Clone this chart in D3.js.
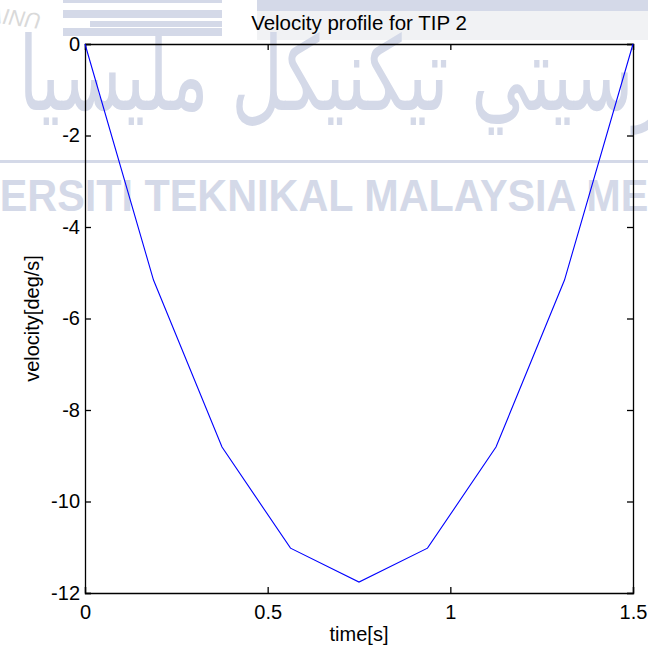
<!DOCTYPE html>
<html>
<head>
<meta charset="utf-8">
<script src="https://cdn.jsdelivr.net/npm/d3@7"></script>
<style>
    body { margin: 0; background: #fff; }
    svg { display: block; }
    text { font-family: "Liberation Sans", Arial, sans-serif; fill: #000; }
</style>
</head>
<body>
<div id="chart"></div>
<script>
// samples of the velocity profile
const timeValues = [0, 0.1875, 0.375, 0.5625, 0.75, 0.9375, 1.125, 1.3125, 1.5]
const velocityValues = [0, -5.16, -8.81, -11.02, -11.76, -11.02, -8.81, -5.16, 0]
const xTicks = [0, 0.5, 1, 1.5]
const yTicks = [0, -2, -4, -6, -8, -10, -12]

;(function () {
    const width = 648
    const height = 651
    const margin = { top: 44, right: 15, bottom: 58, left: 85 }
    const chartWidth = width - margin.left - margin.right
    const chartHeight = height - margin.top - margin.bottom
    const tickLen = 6

    const svg = d3.select("#chart")
        .append("svg")
        .attr("width", width)
        .attr("height", height)

    // background watermark (university logo banner)
    const wm = svg.append("g").attr("class", "watermark")
    const wmColor = "#d4d9e8"

    wm.append("rect").attr("x", 257).attr("y", 0).attr("width", 391).attr("height", 40).attr("fill", "#f1f2f4")
    wm.append("rect").attr("x", 257).attr("y", 0).attr("width", 391).attr("height", 11).attr("fill", wmColor)
    const stripes = [[63, 0, 3], [63, 10, 8], [90, 21, 6], [63, 28, 8]]
    stripes.forEach(s => {
        wm.append("rect").attr("x", s[0]).attr("y", s[1]).attr("width", 222 - s[0]).attr("height", s[2]).attr("fill", wmColor)
    })
    wm.append("text")
        .attr("transform", "translate(42,14) rotate(188)")
        .style("font-size", "22px")
        .style("font-style", "italic")
        .style("fill", "#d9d9d9")
        .text("UNIV")

    wm.append("text")
        .attr("transform", "translate(668,110) scale(0.87,1.25)")
        .attr("direction", "rtl")
        .style("font-family", "DejaVu Sans, sans-serif")
        .style("font-size", "82px")
        .style("fill", wmColor)
        .text("رسيتي تيكنيكل مليسيا م")

    wm.append("rect").attr("x", 0).attr("y", 160).attr("width", width).attr("height", 3).attr("fill", wmColor)

    wm.append("text")
        .attr("transform", "translate(-99,211) scale(0.94,1)")
        .style("font-size", "44px")
        .style("font-weight", "bold")
        .style("fill", wmColor)
        .text("UNIVERSITI TEKNIKAL MALAYSIA MELAKA")

    const g = svg.append("g")
        .attr("transform", `translate(${margin.left},${margin.top})`)

    const xPositionScale = d3.scaleLinear().domain([0, 1.5]).range([0, chartWidth])
    const yPositionScale = d3.scaleLinear().domain([-12, 0]).range([chartHeight, 0])

    const plainFormat = d => String(d)

    // inner ticks on all four sides, MATLAB style
    const xAxisBottom = d3.axisBottom(xPositionScale).tickValues(xTicks).tickSize(-tickLen).tickPadding(12)
        .tickFormat(plainFormat)
    const xAxisTop = d3.axisTop(xPositionScale).tickValues(xTicks).tickSize(-tickLen).tickFormat("")
    const yAxisLeft = d3.axisLeft(yPositionScale).tickValues(yTicks).tickSize(-tickLen).tickPadding(5)
        .tickFormat(plainFormat)
    const yAxisRight = d3.axisRight(yPositionScale).tickValues(yTicks).tickSize(-tickLen).tickFormat("")

    g.append("g").attr("class", "axis x-axis")
        .attr("transform", `translate(0,${chartHeight})`).call(xAxisBottom)
    g.append("g").attr("class", "axis x-axis-top").call(xAxisTop)
    g.append("g").attr("class", "axis y-axis").call(yAxisLeft)
    g.append("g").attr("class", "axis y-axis-right")
        .attr("transform", `translate(${chartWidth},0)`).call(yAxisRight)

    g.selectAll(".axis path").attr("stroke", "#000").attr("stroke-width", 1.3)
    g.selectAll(".axis line").attr("stroke", "#000").attr("stroke-width", 1.3)
    g.selectAll(".axis text")
        .style("font-family", "'Liberation Sans', Arial, sans-serif")
        .style("font-size", "20px")
        .attr("fill", "#000")
    g.selectAll(".y-axis text").attr("x", -5)

    const line = d3.line()
        .x((d, i) => xPositionScale(timeValues[i]))
        .y(d => yPositionScale(d))

    g.append("path")
        .datum(velocityValues)
        .attr("fill", "none")
        .attr("stroke", "#0000ff")
        .attr("stroke-width", 1.1)
        .attr("d", line)

    svg.append("text")
        .attr("x", margin.left + chartWidth / 2)
        .attr("y", 30)
        .attr("text-anchor", "middle")
        .style("font-size", "20.5px")
        .text("Velocity profile for TIP 2")

    svg.append("text")
        .attr("x", margin.left + chartWidth / 2)
        .attr("y", 641)
        .attr("text-anchor", "middle")
        .style("font-size", "20px")
        .text("time[s]")

    svg.append("text")
        .attr("transform", `translate(39,${margin.top + chartHeight / 2}) rotate(-90)`)
        .attr("text-anchor", "middle")
        .style("font-size", "20px")
        .text("velocity[deg/s]")
})()
</script>
</body>
</html>
